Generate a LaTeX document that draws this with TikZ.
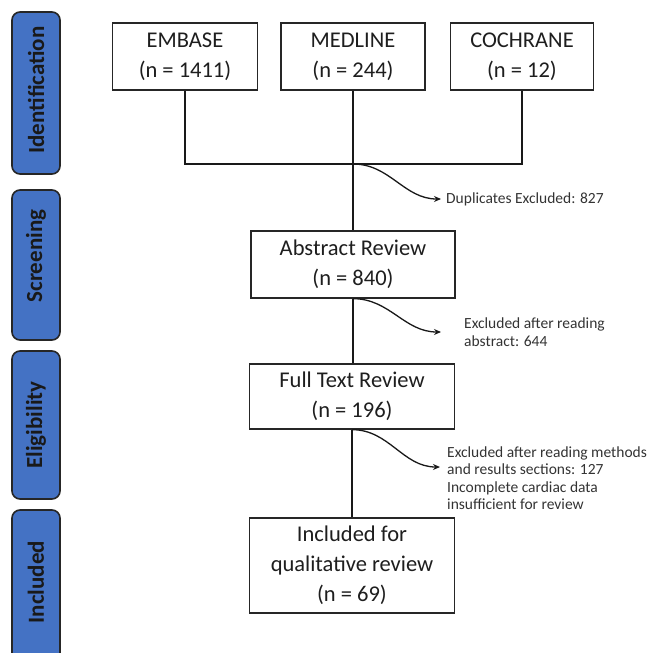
\documentclass[tikz,border=0pt]{standalone}
\usepackage{fontspec}
\setmainfont{Carlito}
\usetikzlibrary{arrows.meta}
\definecolor{barblue}{HTML}{4472C4}
\definecolor{txt}{HTML}{1E1E1E}
\begin{document}
\begin{tikzpicture}[x=1pt,y=-1pt,
  bar/.style={draw=black!85, line width=1.6pt, fill=barblue, rounded corners=8pt},
  barlabel/.style={rotate=90, text=black!90, font=\fontsize{23}{28}\selectfont\bfseries},
  box/.style={draw=black!85, line width=1.3pt, fill=white, align=center, text=txt,
    font=\fontsize{22.5}{30}\selectfont, inner sep=0pt},
  note/.style={align=left, text=black!80, font=\fontsize{15.5}{17.5}\selectfont, inner sep=0pt, anchor=west},
  conn/.style={line width=1.7pt, draw=black!90},
  exarrow/.style={line width=1.3pt, draw=black!90, -{Stealth[length=7pt,width=6pt]}}]
\useasboundingbox (0,0) rectangle (649,653);
\begin{scope}
\clip (0,0) rectangle (649,653);
% side bars
\draw[bar] (12,12) rectangle (60,174);
\draw[bar] (12,190) rectangle (60,340);
\draw[bar] (12,351) rectangle (60,499);
\draw[bar] (12,510) rectangle (60,668);
\end{scope}
\node[barlabel] (lid) at (36,90) {Identification};
\node[barlabel] (lsc) at (36,256) {Screening};
\node[barlabel] (lel) at (36,425) {Eligibility};
\node[barlabel] (lin) at (36,582) {Included};
% top boxes
\node[box, minimum width=145pt, minimum height=67pt] (emb) at (185,56.5) {EMBASE\\(n = 1411)};
\node[box, minimum width=144pt, minimum height=67pt] (med) at (353,56.5) {MEDLINE\\(n = 244)};
\node[box, minimum width=143pt, minimum height=67pt] (coc) at (522,56.5) {COCHRANE\\(n = 12)};
\coordinate (j) at (353,164);
% review boxes
\node[box, minimum width=204pt, minimum height=67pt] (abs) at (353,264.5) {Abstract Review\\(n = 840)};
\node[box, minimum width=205pt, minimum height=65pt] (ful) at (352,396.5) {Full Text Review\\(n = 196)};
\node[box, minimum width=205pt, minimum height=95pt] (inc) at (352,565.5) {Included for\\qualitative review\\(n = 69)};
% connectors
\draw[conn] (emb.south) |- (j);
\draw[conn] (coc.south) |- (j);
\draw[conn] (med.south) -- (abs.north);
\draw[conn] (abs.south) -- (abs.south |- ful.north);
\draw[conn] (ful.south) -- (inc.north);
% exclusion notes
\node[note] (n1) at (446,199) {Duplicates Excluded: 827};
\node[note] (n2) at (464,332) {Excluded after reading\\abstract: 644};
\node[note] (n3) at (447,478) {Excluded after reading methods\\and results sections: 127\\Incomplete cardiac data\\insufficient for review};
\coordinate (t1) at (441,199);
\coordinate (t2) at (441,332);
\coordinate (t3) at (440,467);
\draw[exarrow] (j) to[out=0,in=180] (t1);
\draw[exarrow] (abs.south) to[out=0,in=180] (t2);
\draw[exarrow] (ful.south) to[out=0,in=180] (t3);
\end{tikzpicture}
\end{document}
